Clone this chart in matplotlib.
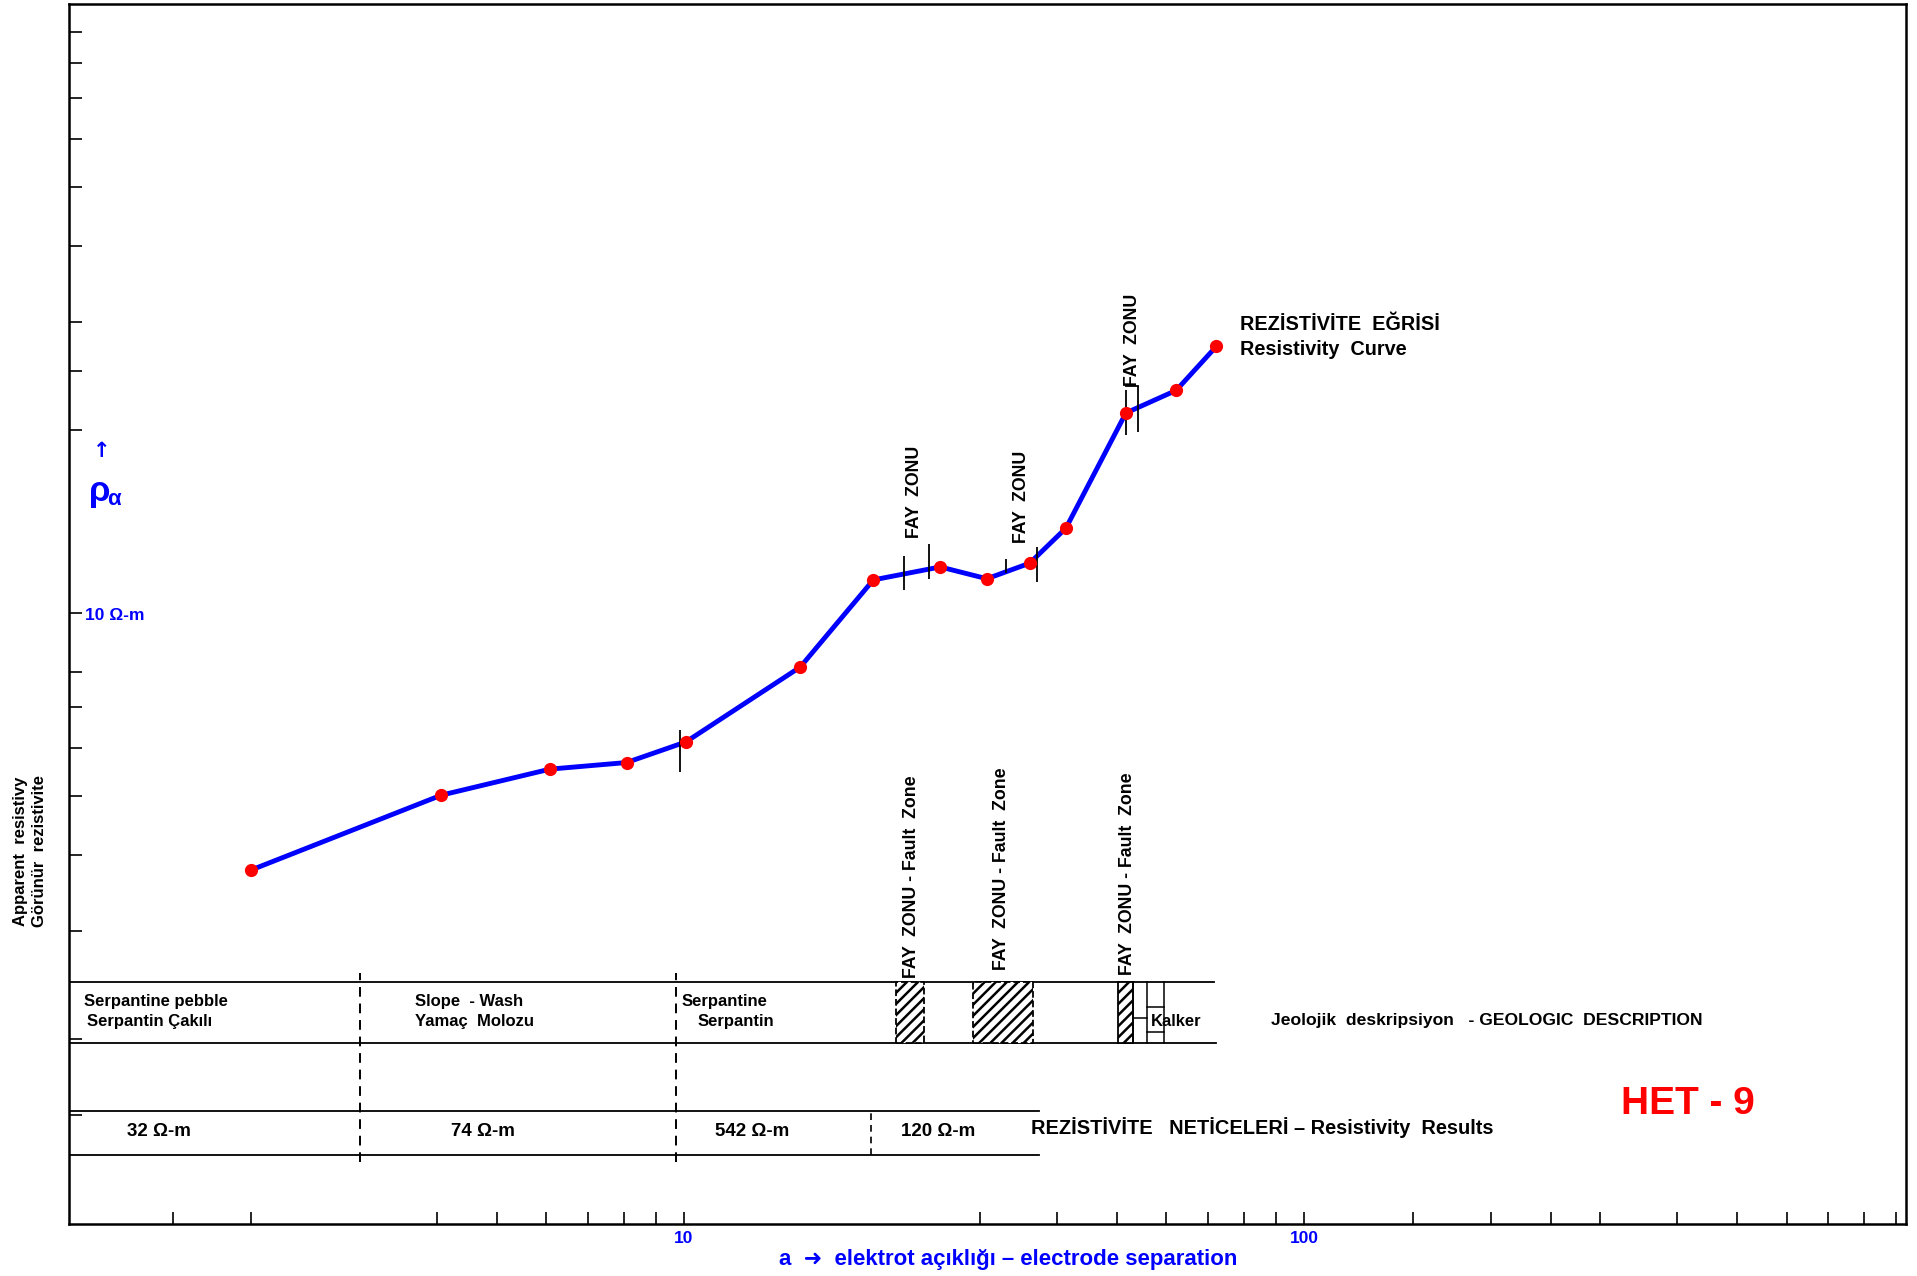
"""HET-9 resistivity sounding curve with geologic description.

    python plot.py
"""

import matplotlib
matplotlib.use("Agg")
import matplotlib.pyplot as plt
import matplotlib.transforms as mtransforms
from matplotlib.patches import Rectangle
from matplotlib.ticker import NullFormatter

plt.rcParams["font.family"] = ["Liberation Sans", "DejaVu Sans"]
plt.rcParams["hatch.linewidth"] = 1.8

# electrode separation a (m) and apparent resistivity (ohm-m)
spacing = [2.0, 4.06, 6.08, 8.08, 10.07, 15.4, 20.2, 25.9, 30.8, 36.1, 41.3, 51.6, 62.2, 72.2]
rho = [3.78, 5.02, 5.54, 5.68, 6.14, 8.15, 11.33, 11.9, 11.38, 12.07, 13.78, 21.3, 23.2, 27.4]

# short vertical marks across the curve
mark_x = [9.84, 22.6, 24.8, 33.1, 37.1, 51.6, 53.9]
mark_lo = [5.48, 10.91, 11.37, 11.62, 11.24, 19.6, 19.8]
mark_hi = [6.42, 12.42, 12.98, 12.27, 12.82, 23.2, 23.6]

# geologic column / results (boundaries in electrode separation)
layer_bounds = [3.0, 9.7]
result_bound = 20.0
fault_left = [21.95, 29.2, 50.2]
fault_right = [24.4, 36.5, 52.9]
fault_dashed = [True, True, False]
kalker_cols = [52.9, 55.8, 59.5]
geo_end = 71.5
res_end = 37.4
result_labels = ["32 Ω-m", "74 Ω-m", "542 Ω-m", "120 Ω-m"]

x_minor = [1.5, 2, 4, 5, 6, 7, 8, 9, 30, 40, 50, 60, 70, 80, 90,
           150, 200, 250, 300, 400, 500, 600, 700, 800, 900]
y_minor = [1.5, 2, 3, 4, 5, 6, 7, 8, 20, 25, 30, 40, 50, 60, 70, 80, 90]


def main():
    fig = plt.figure(figsize=(19.17, 12.76), dpi=100)
    ax = fig.add_axes([69 / 1917, 52 / 1276, 1837 / 1917, 1220 / 1276])
    ax.set_xscale("log")
    ax.set_yscale("log")
    ax.set_xlim(1.019, 935)
    ax.set_ylim(0.992, 100)

    ax.set_xticks([10, 100], labels=["10", "100"])
    ax.set_xticks(x_minor, minor=True)
    ax.set_yticks([10], labels=[""])
    ax.set_yticks(y_minor, minor=True)
    ax.xaxis.set_minor_formatter(NullFormatter())
    ax.yaxis.set_minor_formatter(NullFormatter())
    ax.tick_params(which="both", direction="in", length=9, width=1.2)
    ax.tick_params(axis="x", which="major", labelcolor="blue", labelsize=12.5, pad=5)
    for lbl in ax.get_xticklabels():
        lbl.set_fontweight("bold")
    for sp in ax.spines.values():
        sp.set_linewidth(1.8)

    # curve
    ax.plot(spacing, rho, color="blue", lw=3.5, zorder=3)
    ax.vlines(mark_x, mark_lo, mark_hi, color="black", lw=1.3, zorder=4)
    ax.plot([mark_x[5], mark_x[6]], [mark_hi[6], mark_hi[6]], color="black", lw=1.3, zorder=4)
    ax.plot(spacing, rho, "o", color="red", ms=9.5, mec="none", zorder=5)

    tr = mtransforms.blended_transform_factory(ax.transData, ax.transAxes)
    xmin = ax.get_xlim()[0]

    # geologic description row
    geo_top, geo_bot = 0.1986, 0.1484
    res_top, res_bot = 0.0924, 0.0562
    ax.plot([xmin, geo_end], [geo_top, geo_top], color="black", lw=1.3, transform=tr)
    ax.plot([xmin, geo_end + 0.5], [geo_bot, geo_bot], color="black", lw=1.3, transform=tr)
    ax.plot([xmin, res_end], [res_top, res_top], color="black", lw=1.3, transform=tr)
    ax.plot([xmin, res_end], [res_bot, res_bot], color="black", lw=1.3, transform=tr)
    for xb in layer_bounds:
        ax.plot([xb, xb], [0.0508, 0.2057], color="black", lw=1.4,
                ls=(0, (5, 3.5)), transform=tr)
    ax.plot([result_bound, result_bound], [res_bot, res_top], color="black", lw=1.2,
            ls=(0, (4, 3)), transform=tr)

    for x0, x1, dashed in zip(fault_left, fault_right, fault_dashed):
        ax.add_patch(Rectangle((x0, geo_bot), x1 - x0, geo_top - geo_bot,
                               transform=tr, facecolor="white", edgecolor="black",
                               hatch="///", lw=1.3, ls="--" if dashed else "-", zorder=2))

    # limestone bricks
    for xc in kalker_cols:
        ax.plot([xc, xc], [geo_bot, geo_top], color="black", lw=1.1, transform=tr)
    ax.plot(kalker_cols[:2], [0.1689, 0.1689], color="black", lw=1.1, transform=tr)
    for yb in [0.1779, 0.1574]:
        ax.plot(kalker_cols[1:], [yb, yb], color="black", lw=1.1, transform=tr)

    txt = dict(transform=ax.transAxes, fontweight="bold", color="black")
    ax.text(0.0079, 0.182, "Serpantine pebble", fontsize=12, va="center", **txt)
    ax.text(0.0098, 0.1656, "Serpantin Çakılı", fontsize=12, va="center", **txt)
    ax.text(0.1884, 0.182, "Slope  - Wash", fontsize=12, va="center", **txt)
    ax.text(0.1884, 0.1656, "Yamaç  Molozu", fontsize=12, va="center", **txt)
    ax.text(0.3337, 0.182, "Serpantine", fontsize=12, va="center", **txt)
    ax.text(0.3424, 0.1656, "Serpantin", fontsize=12, va="center", **txt)
    ax.text(0.5888, 0.1658, "Kalker", fontsize=12, va="center", **txt)
    ax.text(0.6543, 0.1664, "Jeolojik  deskripsiyon   - GEOLOGIC  DESCRIPTION",
            fontsize=12.6, va="center", **txt)

    for xf, lab in zip([0.049, 0.2254, 0.3718, 0.473], result_labels):
        ax.text(xf, 0.0762, lab, fontsize=13.5, ha="center", va="center", **txt)
    ax.text(0.5237, 0.0787, "REZİSTİVİTE   NETİCELERİ – Resistivity  Results",
            fontsize=14.4, va="center", **txt)

    for xf, yf in zip([0.4584, 0.5077, 0.5763], [0.2016, 0.2082, 0.2041]):
        ax.text(xf, yf, "FAY  ZONU - Fault  Zone", fontsize=12.8, rotation=90,
                ha="center", va="bottom", **txt)
    for xf, yf in zip([0.4605, 0.5183, 0.5792], [0.5623, 0.5582, 0.6869]):
        ax.text(xf, yf, "FAY  ZONU", fontsize=12.8, rotation=90,
                ha="center", va="bottom", **txt)

    ax.text(0.6375, 0.7377, "REZİSTİVİTE  EĞRİSİ", fontsize=14.3, va="center", **txt)
    ax.text(0.6375, 0.7172, "Resistivity  Curve", fontsize=14.3, va="center", **txt)

    ax.text(0.8813, 0.0984, "HET - 9", fontsize=28, fontweight="bold", color="red",
            ha="center", va="center", transform=ax.transAxes)

    blue = dict(transform=ax.transAxes, color="blue", fontweight="bold")
    ax.text(0.0087, 0.4985, "10 Ω-m", fontsize=12.5, va="center", **blue)
    ax.text(0.0108, 0.6005, "ρ", fontsize=25, va="center", **blue)
    ax.text(0.0205, 0.5935, "α", fontsize=16, va="center", **blue)
    ax.text(0.0178, 0.6336, "↑", fontsize=15, ha="center", va="center",
            family="DejaVu Sans", **blue)

    fig.text(1008 / 1917, 1 - 1260 / 1276, "a  ➜  elektrot açıklığı – electrode separation",
             fontsize=16, fontweight="bold", color="blue", ha="center", va="center")
    fig.text(20 / 1917, 1 - 851 / 1276, "Apparent  resistivy", fontsize=12,
             fontweight="bold", rotation=90, ha="center", va="center")
    fig.text(40 / 1917, 1 - 851 / 1276, "Görünür  rezistivite", fontsize=12,
             fontweight="bold", rotation=90, ha="center", va="center")

    fig.savefig("out.png", dpi=100)


if __name__ == "__main__":
    main()
